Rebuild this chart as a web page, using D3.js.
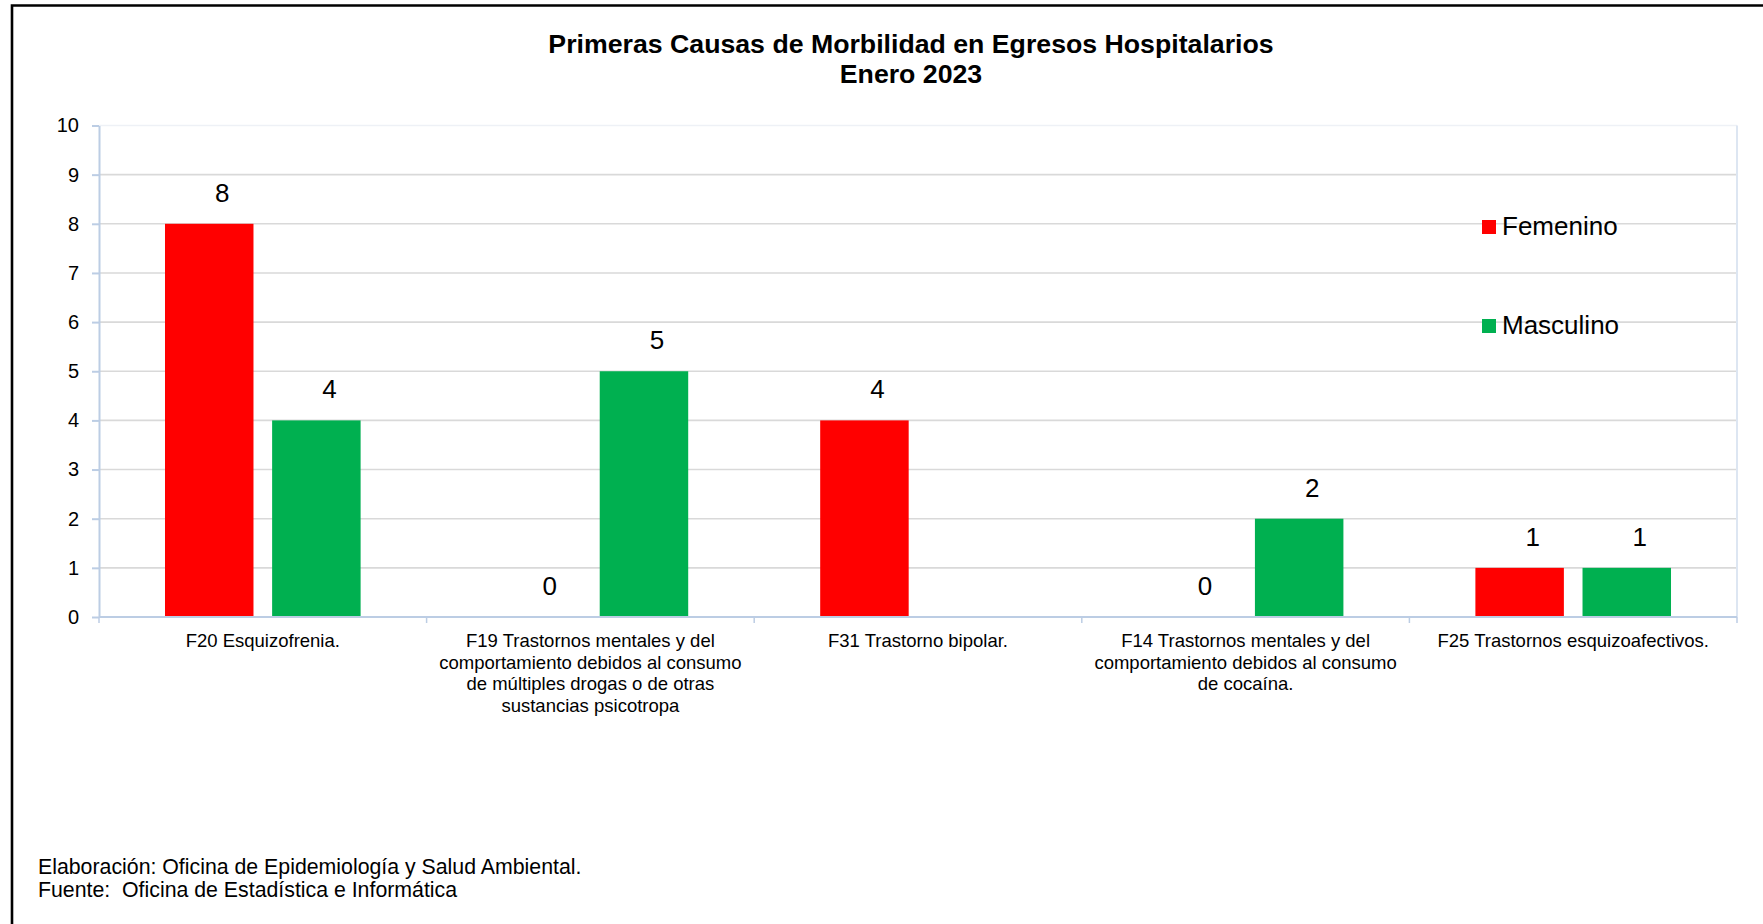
<!DOCTYPE html>
<html>
<head>
<meta charset="utf-8">
<script src="https://cdn.jsdelivr.net/npm/d3@7"></script>
<style>
  html, body { margin: 0; padding: 0; background: #fff; }
  svg { display: block; font-family: "Liberation Sans", Arial, sans-serif; }
</style>
</head>
<body>
<svg id="chart" width="1763" height="924"></svg>
<script>
// ---- data ----
const titleLines = ["Primeras Causas de Morbilidad en Egresos Hospitalarios", "Enero 2023"];
const categories = [
  "F20 Esquizofrenia.",
  "F19 Trastornos mentales y del comportamiento debidos al consumo de múltiples drogas o de otras sustancias psicotropa",
  "F31 Trastorno bipolar.",
  "F14 Trastornos mentales y del comportamiento debidos al consumo de cocaína.",
  "F25 Trastornos esquizoafectivos."
];
const categoryLines = [
  ["F20 Esquizofrenia."],
  ["F19 Trastornos mentales y del", "comportamiento debidos al consumo", "de múltiples drogas o de otras", "sustancias psicotropa"],
  ["F31 Trastorno bipolar."],
  ["F14 Trastornos mentales y del", "comportamiento debidos al consumo", "de cocaína."],
  ["F25 Trastornos esquizoafectivos."]
];
const series = ["Femenino", "Masculino"];
const femenino = [8, 0, 4, 0, 1];
const masculino = [4, 5, null, 2, 1];
const seriesColors = ["#ff0000", "#00b050"];
const yTicks = [0, 1, 2, 3, 4, 5, 6, 7, 8, 9, 10];
const footerLines = ["Elaboración: Oficina de Epidemiología y Salud Ambiental.", "Fuente:  Oficina de Estadística e Informática"];

// ---- layout ----
const svg = d3.select("#chart");
const plot = { left: 99, right: 1737, top: 125.5, bottom: 617 };

const x0 = d3.scaleBand().domain(categories).range([plot.left, plot.right]).padding(0);
const x1 = d3.scaleBand().domain(series).range([0, x0.bandwidth()]).paddingInner(0.174).paddingOuter(0.616);
const y = d3.scaleLinear().domain([0, 10]).range([plot.bottom, plot.top]);
const color = d3.scaleOrdinal().domain(series).range(seriesColors);

// outer frame (top and left edges visible)
svg.append("path")
  .attr("d", `M12,924 V5.5 H1763`)
  .attr("fill", "none").attr("stroke", "#000").attr("stroke-width", 2.6);

// title
svg.append("g").selectAll("text").data(titleLines).join("text")
  .attr("x", 911).attr("y", (d, i) => 52.5 + i * 30.5)
  .attr("text-anchor", "middle")
  .attr("font-weight", "bold").attr("font-size", 26.7)
  .attr("fill", "#000")
  .text(d => d);

// gridlines
svg.append("g").selectAll("line").data(yTicks.filter(t => t > 0)).join("line")
  .attr("x1", plot.left).attr("x2", plot.right)
  .attr("y1", d => y(d)).attr("y2", d => y(d))
  .attr("stroke", d => d === 10 ? "#eef1f6" : "#d9d9d9")
  .attr("stroke-width", 1.6);

// right edge of plot area
svg.append("line")
  .attr("x1", plot.right).attr("x2", plot.right)
  .attr("y1", y(10)).attr("y2", y(0))
  .attr("stroke", "#dde6f2").attr("stroke-width", 2);

// bars
const rows = categories.map((c, i) => ({ cat: c, values: [femenino[i], masculino[i]] }));
const groups = svg.append("g").selectAll("g").data(rows).join("g")
  .attr("transform", d => `translate(${x0(d.cat)},0)`);

groups.selectAll("rect")
  .data(d => series.map((s, j) => ({ s, v: d.values[j] })).filter(e => e.v !== null && e.v > 0))
  .join("rect")
  .attr("x", e => x1(e.s))
  .attr("width", x1.bandwidth())
  .attr("y", e => y(e.v))
  .attr("height", e => y(0) - y(e.v))
  .attr("fill", e => color(e.s));

// value labels
groups.selectAll("text")
  .data(d => series.map((s, j) => ({ s, v: d.values[j] })).filter(e => e.v !== null))
  .join("text")
  .attr("x", e => x1(e.s) + x1.bandwidth() / 2 + 13)
  .attr("y", e => y(e.v) - 22)
  .attr("text-anchor", "middle")
  .attr("font-size", 26)
  .attr("fill", "#000")
  .text(e => e.v);

// y axis
const yAxis = svg.append("g")
  .attr("transform", `translate(${plot.left},0)`)
  .call(d3.axisLeft(y).tickValues(yTicks).tickSize(7).tickPadding(13).tickSizeOuter(0));
yAxis.select(".domain").attr("stroke", "#bccde4").attr("stroke-width", 2);
yAxis.selectAll(".tick line").attr("stroke", "#bccde4").attr("stroke-width", 2);
yAxis.selectAll(".tick text").attr("font-size", 20).attr("fill", "#000")
  .attr("font-family", "'Liberation Sans', Arial, sans-serif");

// x axis
const boundaries = categories.map(c => x0(c)).concat([x0.range()[1]]);
const xAxis = svg.append("g");
xAxis.append("line")
  .attr("x1", plot.left).attr("x2", plot.right)
  .attr("y1", y(0)).attr("y2", y(0))
  .attr("stroke", "#bccde4").attr("stroke-width", 2.2);
xAxis.selectAll("line.tk").data(boundaries).join("line")
  .attr("class", "tk")
  .attr("x1", d => d).attr("x2", d => d)
  .attr("y1", y(0)).attr("y2", y(0) + 6)
  .attr("stroke", "#bccde4").attr("stroke-width", 1.5);

// category labels
const catLabels = svg.append("g").selectAll("text").data(categories).join("text")
  .attr("x", d => x0(d) + x0.bandwidth() / 2)
  .attr("y", 647)
  .attr("text-anchor", "middle")
  .attr("font-size", 18.5)
  .attr("fill", "#000");
catLabels.selectAll("tspan").data((d, i) => categoryLines[i]).join("tspan")
  .attr("x", function () { return d3.select(this.parentNode).attr("x"); })
  .attr("dy", (d, i) => i === 0 ? 0 : 21.7)
  .text(d => d);

// legend
const legend = svg.append("g").selectAll("g").data(series).join("g")
  .attr("transform", (d, i) => `translate(1482, ${220 + i * 99})`);
legend.append("rect").attr("width", 14).attr("height", 14).attr("fill", d => color(d));
legend.append("text").attr("x", 20).attr("y", 15).attr("font-size", 26).attr("fill", "#000").text(d => d);

// footer
svg.append("g").selectAll("text").data(footerLines).join("text")
  .attr("x", 38).attr("y", (d, i) => 874 + i * 23)
  .attr("font-size", 21.3).attr("fill", "#000")
  .attr("xml:space", "preserve")
  .style("white-space", "pre")
  .text(d => d);
</script>
</body>
</html>
